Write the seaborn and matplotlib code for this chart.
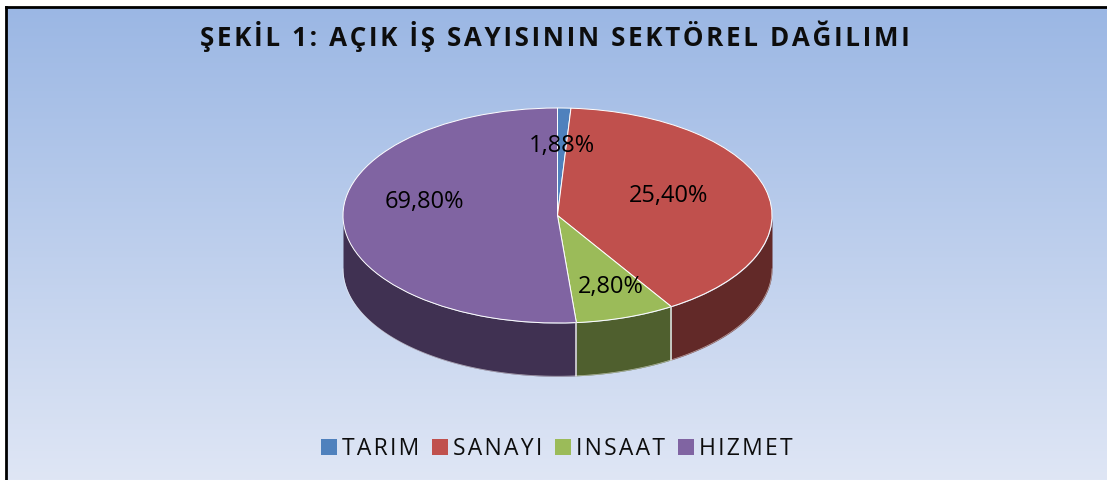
import numpy as np
import seaborn as sns
import matplotlib
import matplotlib.pyplot as plt
from matplotlib.patches import Patch
matplotlib.use('Agg')

sns.set_theme(style="white")
plt.rcParams['font.family'] = ['Open Sans', 'DejaVu Sans']

title = "ŞEKİL 1: AÇIK İŞ SAYISININ SEKTÖREL DAĞILIMI"
categories = ["TARIM", "SANAYI", "INSAAT", "HIZMET"]
# the slices in the picture are not the size their labels claim, both are kept
slice_shares = [1.0, 40.1, 7.5, 51.4]
value_labels = ["1,88%", "25,40%", "2,80%", "69,80%"]

top_colors = sns.color_palette(["#4F81BD", "#C0504D", "#9BBB59", "#8064A2"])
side_colors = sns.color_palette(["#2F4D71", "#622928", "#4F5F2E", "#403152"])


def spaced(s):
    # the reference has its capitals letter-spaced, hair spaces do the same
    return "\u200a".join(s)


W, H = 1107, 480
f = plt.figure(figsize=(W / 100, H / 100), dpi=100, facecolor='white')

# background panel with the gradient
bg = f.add_axes([6 / W, 0, (W - 6) / W, (H - 7) / H])
gradient = np.linspace(0, 1, 256).reshape(-1, 1)
bg.imshow(gradient, aspect='auto', cmap=sns.blend_palette(["#9BB7E4", "#DFE6F5"], as_cmap=True))
bg.set_xticks([])
bg.set_yticks([])
sns.despine(ax=bg, top=False, right=True, left=False, bottom=True)
bg.spines['left'].set_color('black')
bg.spines['top'].set_color('black')
bg.spines['left'].set_linewidth(2)
bg.spines['top'].set_linewidth(2)

# pie axes, one data unit is 214.5 px across and 107.5 px up
cx, cy, rx, ry = 557.5, 215.5, 214.5, 107.5
depth = 0.495
xmin, xmax, ymin, ymax = -1.2, 1.2, -1.7, 1.2
ax = f.add_axes([(cx + xmin * rx) / W, 1 - (cy - ymin * ry) / H,
                 (xmax - xmin) * rx / W, (ymax - ymin) * ry / H])
ax.patch.set_alpha(0)

# side wall of the disc, only the front half shows
edges = 90 - np.cumsum([0] + slice_shares) * 3.6
for i in range(len(categories)):
    a0 = max(edges[i + 1], -180)
    a1 = min(edges[i], 0)
    if a1 <= a0:
        continue
    t = np.radians(np.linspace(a0, a1, 120))
    ax.fill_between(np.cos(t), np.sin(t), np.sin(t) - depth, color=side_colors[i], linewidth=0)
    ax.plot(np.cos(t), np.sin(t) - depth, color='white', lw=0.5, alpha=0.6)
    if i < len(categories) - 1 and -180 < edges[i + 1] < 0:
        e = np.radians(edges[i + 1])
        ax.plot([np.cos(e)] * 2, [np.sin(e), np.sin(e) - depth], color='#D9D9D9', lw=1.2)

ax.pie(slice_shares, colors=top_colors, startangle=90, counterclock=False, radius=1,
       wedgeprops={'edgecolor': 'white', 'linewidth': 0.7})
ax.set_aspect('auto')
ax.set_xlim(xmin, xmax)
ax.set_ylim(ymin, ymax)

label_px = [(562, 146), (669, 196), (611, 287), (424, 202)]
for txt, (px, py) in zip(value_labels, label_px):
    f.text(px / W, 1 - py / H, txt, ha='center', va='center', fontsize=17, color='black')

f.text(555 / W, 1 - 36 / H, spaced(title), ha='center', va='center', fontsize=18.7,
       fontweight='bold', color='#0D0D0D')

handles = [Patch(facecolor=c, edgecolor='none') for c in top_colors]
f.legend(handles, [spaced(c) for c in categories], loc='center',
         bbox_to_anchor=(557 / W, 1 - 449 / H), ncol=4,
         frameon=False, fontsize=16.5, handlelength=0.7, handleheight=0.7,
         handletextpad=0.22, columnspacing=0.55, labelcolor='#0D0D0D')

f.savefig('out.png', dpi=100)
